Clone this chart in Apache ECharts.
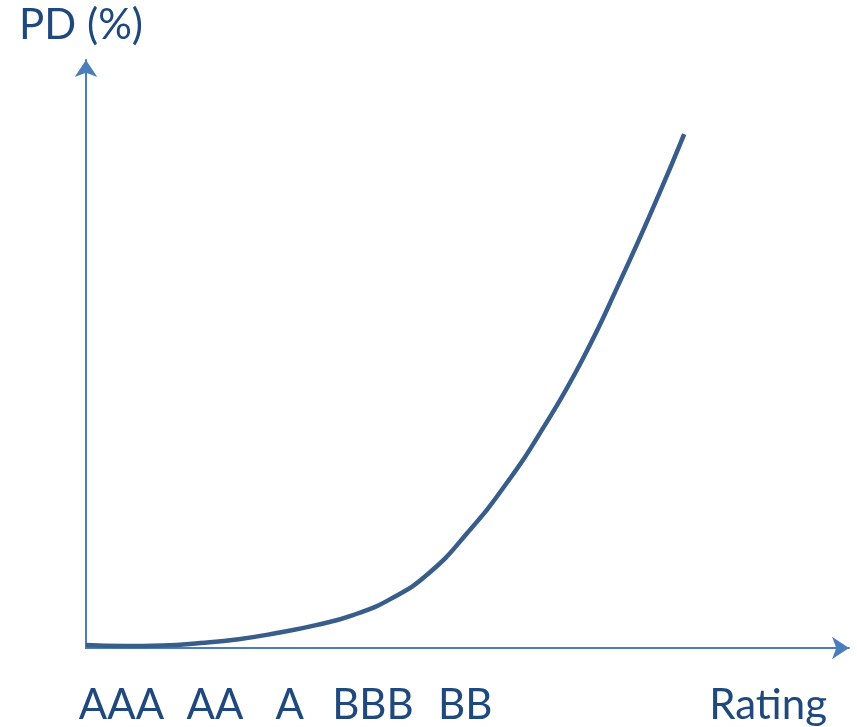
<!DOCTYPE html>
<html>
<head>
<meta charset="utf-8">
<script src="https://cdn.jsdelivr.net/npm/echarts@6/dist/echarts.min.js"></script>
<style>
  html, body { margin: 0; padding: 0; background: #fff; }
  #myChart { width: 857px; height: 727px; }
</style>
</head>
<body>
<div id="myChart"></div>
<script>
// rating position on the x scale (0..10) and curve
var ratingNames = ['AAA', 'AA', 'A', 'BBB', 'BB', 'Rating'];
var ratingPos = [0.465, 1.69, 2.67, 3.76, 4.97, 8.94];

var curveX = [0, 0.5, 1, 1.5, 2, 2.5, 3, 3.5, 4, 4.5, 5, 5.5, 6, 6.5, 7, 7.5, 7.84];
var curveY = [0.51, 0.34, 0.43, 0.85, 1.5, 2.55, 3.85, 5.6, 8.4, 12.8, 19.6, 27.8, 37.6, 48.9, 62.4, 76.9, 87.4];

var myChart = echarts.init(document.getElementById('myChart'));

var textColor = '#1F497D';
var axisColor = '#4A7EBB';

var curveData = curveX.map(function (x, i) {
    return [x, curveY[i]];
});

function arrowLine() {
    return {
        show: true,
        symbol: ['none', 'arrow'],
        symbolSize: [17, 17],
        symbolOffset: [0, 0],
        lineStyle: {color: axisColor, width: 2}
    };
}

var option = {
    animation: false,
    grid: {
        left: 86,
        right: 8,
        top: 60,
        bottom: 79,
        containLabel: false
    },
    xAxis: {
        type: 'value',
        min: 0,
        max: 10,
        splitLine: {show: false},
        axisTick: {show: false},
        axisLine: arrowLine(),
        axisLabel: {
            customValues: ratingPos,
            margin: 36,
            color: textColor,
            fontFamily: 'Lato',
            fontSize: 42,
            formatter: function (val) {
                var idx = ratingPos.indexOf(val);
                return idx >= 0 ? ratingNames[idx] : '';
            }
        }
    },
    yAxis: {
        type: 'value',
        min: 0,
        max: 100,
        name: 'PD (%)',
        nameLocation: 'end',
        nameGap: 14,
        nameTextStyle: {
            color: textColor,
            fontFamily: 'Lato',
            fontSize: 42,
            align: 'center',
            padding: [0, 10, 0, 0]
        },
        splitLine: {show: false},
        axisTick: {show: false},
        axisLabel: {show: false},
        axisLine: arrowLine()
    },
    series: [{
        type: 'line',
        data: curveData,
        smooth: 0.5,
        showSymbol: false,
        lineStyle: {color: '#385D8A', width: 4.5}
    }]
};

myChart.setOption(option);
</script>
</body>
</html>
